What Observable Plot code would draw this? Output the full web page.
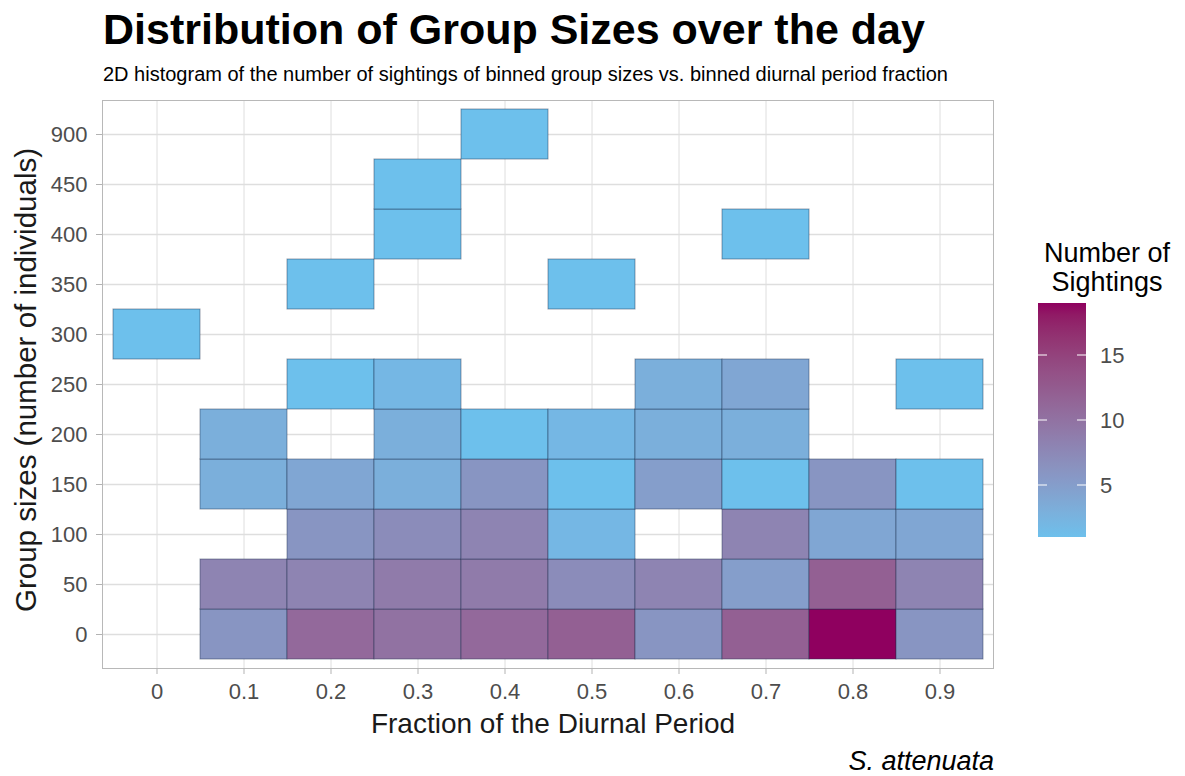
<!DOCTYPE html>
<html><head><meta charset="utf-8">
<script src="https://cdn.jsdelivr.net/npm/d3@7"></script>
<script src="https://cdn.jsdelivr.net/npm/@observablehq/plot@0.6"></script>
<style>
html,body{margin:0;padding:0;background:#fff;}
#chart{position:relative;width:1185px;height:776px;}
</style></head><body><div id="chart"></div>
<script>
// ---- data ----
const xBins = ["0","0.1","0.2","0.3","0.4","0.5","0.6","0.7","0.8","0.9"];
const yBins = ["0","50","100","150","200","250","300","350","400","450","900"];
const binX = [
  "0",
  "0.1","0.1","0.1","0.1",
  "0.2","0.2","0.2","0.2","0.2","0.2",
  "0.3","0.3","0.3","0.3","0.3","0.3","0.3","0.3",
  "0.4","0.4","0.4","0.4","0.4","0.4",
  "0.5","0.5","0.5","0.5","0.5","0.5",
  "0.6","0.6","0.6","0.6","0.6",
  "0.7","0.7","0.7","0.7","0.7","0.7","0.7",
  "0.8","0.8","0.8","0.8",
  "0.9","0.9","0.9","0.9","0.9"
];
const binY = [
  "300",
  "0","50","150","200",
  "0","50","100","150","250","350",
  "0","50","100","150","200","250","400","450",
  "0","50","100","150","200","900",
  "0","50","100","150","200","350",
  "0","50","150","200","250",
  "0","50","100","150","200","250","400",
  "0","50","100","150",
  "0","50","100","150","250"
];
const sightings = [
  1,
  6,8,3,3,
  11,8,6,4,1,1,
  10,9,7,3,3,2,1,1,
  11,9,8,6,1,1,
  12,7,2,1,2,1,
  6,8,5,3,3,
  12,5,8,1,3,4,1,
  19,12,4,6,
  6,8,4,1,1
];
const legendTicks = [5, 10, 15];
const colorDomain = [1, 19];

const titleText = "Distribution of Group Sizes over the day";
const subtitleText = "2D histogram of the number of sightings of binned group sizes vs. binned diurnal period fraction";
const xTitle = "Fraction of the Diurnal Period";
const yTitle = "Group sizes (number of individuals)";
const captionText = "S. attenuata";
const legendTitle = ["Number of", "Sightings"];

const data = sightings.map((n, i) => ({x: binX[i], y: binY[i], n}));

// ---- layout ----
const FONT = "'Liberation Sans', Arial, Helvetica, sans-serif";
const W = 1185, H = 776, L = 102, R = 993, T = 100, B = 668;
const LOW = "#6DC0EC", HIGH = "#8F005F";

const plot = Plot.plot({
  width: W, height: H,
  marginLeft: L, marginRight: W - R, marginTop: T, marginBottom: H - B,
  style: {fontFamily: FONT, background: "#fff", overflow: "visible"},
  x: {type: "band", domain: xBins, paddingInner: 0, paddingOuter: 0.1, label: null},
  y: {type: "band", domain: yBins.slice().reverse(), paddingInner: 0, paddingOuter: 0.1, label: null},
  color: {type: "linear", domain: colorDomain, range: [LOW, HIGH], interpolate: d3.interpolateLab},
  marks: [
    Plot.gridX({stroke: "#dedede", strokeOpacity: 1, strokeWidth: 1}),
    Plot.gridY({stroke: "#dedede", strokeOpacity: 1, strokeWidth: 1.4}),
    Plot.cell(data, {x: "x", y: "y", fill: "n", stroke: "#1c2c4c", strokeOpacity: 0.45, strokeWidth: 1, inset: 0}),
    Plot.frame({stroke: "#b8b8b8", strokeWidth: 1}),
    Plot.axisX({tickSize: 6, tickPadding: 9, stroke: "#b3b3b3", fill: "#4d4d4d", fontSize: 22, label: null}),
    Plot.axisY({tickSize: 6, tickPadding: 9, stroke: "#b3b3b3", fill: "#4d4d4d", fontSize: 22, label: null})
  ]
});
document.getElementById("chart").appendChild(plot);

const svg = d3.select(plot);
const txt = (x, y, s, size, opts = {}) => {
  const t = svg.append("text").attr("x", x).attr("y", y).text(s)
    .attr("font-family", FONT).attr("font-size", size).attr("fill", opts.fill || "#000")
    .attr("text-anchor", opts.anchor || "start");
  if (opts.weight) t.attr("font-weight", opts.weight);
  if (opts.style) t.attr("font-style", opts.style);
  if (opts.transform) t.attr("transform", opts.transform);
  return t;
};

txt(103, 44, titleText, 43, {weight: "bold"});
txt(103, 81, subtitleText, 20);
txt(553, 733, xTitle, 28, {anchor: "middle", fill: "#1a1a1a"});
txt(0, 0, yTitle, 29.5, {anchor: "middle", fill: "#1a1a1a", transform: `translate(36,380) rotate(-90)`});
txt(994, 770, captionText, 27, {anchor: "end", style: "italic"});

// ---- legend ----
const lx0 = 1038, lx1 = 1086, ly0 = 303, ly1 = 537;
const legColor = d3.scaleLinear().domain(colorDomain).range([LOW, HIGH]).interpolate(d3.interpolateLab);
const legY = d3.scaleLinear().domain(colorDomain).range([ly1, ly0]);
const defs = svg.append("defs");
const grad = defs.append("linearGradient").attr("id", "legGrad")
  .attr("x1", 0).attr("y1", 1).attr("x2", 0).attr("y2", 0);
d3.range(0, 1.0001, 0.05).forEach(t => {
  grad.append("stop").attr("offset", t)
    .attr("stop-color", legColor(colorDomain[0] + t * (colorDomain[1] - colorDomain[0])));
});
svg.append("rect").attr("x", lx0).attr("y", ly0).attr("width", lx1 - lx0).attr("height", ly1 - ly0)
  .attr("fill", "url(#legGrad)");
legendTicks.forEach(v => {
  const y = legY(v);
  svg.append("line").attr("x1", lx0).attr("x2", lx0 + 9).attr("y1", y).attr("y2", y).attr("stroke", "#fff").attr("stroke-width", 1);
  svg.append("line").attr("x1", lx1 - 9).attr("x2", lx1).attr("y1", y).attr("y2", y).attr("stroke", "#fff").attr("stroke-width", 1);
  txt(1100, y + 8, String(v), 22, {fill: "#4d4d4d"});
});
txt(1107, 262, legendTitle[0], 27, {anchor: "middle"});
txt(1107, 291, legendTitle[1], 27, {anchor: "middle"});
</script>
</body></html>
